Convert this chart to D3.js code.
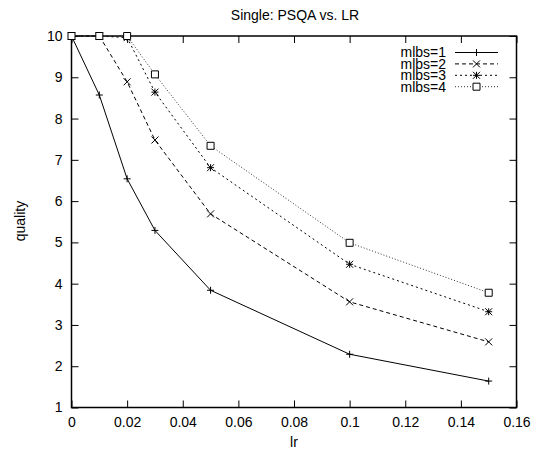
<!DOCTYPE html>
<html><head><meta charset="utf-8">
<script src="https://cdn.jsdelivr.net/npm/d3@7"></script>
<style>
body{margin:0;background:#fff;}
text{font-family:"Liberation Sans",Arial,Helvetica,sans-serif;fill:#000;}
</style></head>
<body>
<svg id="c" width="542" height="452"></svg>
<script>
const lr = [0, 0.01, 0.02, 0.03, 0.05, 0.1, 0.15];
const mlbs1 = [10, 8.57, 6.54, 5.29, 3.84, 2.29, 1.64];
const mlbs2 = [10, 10, 8.89, 7.48, 5.69, 3.56, 2.59];
const mlbs3 = [10, 10, 9.96, 8.64, 6.81, 4.47, 3.32];
const mlbs4 = [10, 10, 10, 9.07, 7.34, 4.99, 3.78];
const seriesNames = ["mlbs=1", "mlbs=2", "mlbs=3", "mlbs=4"];
const xTicks = [0, 0.02, 0.04, 0.06, 0.08, 0.1, 0.12, 0.14, 0.16];
const yTicks = [1, 2, 3, 4, 5, 6, 7, 8, 9, 10];

const series = [mlbs1, mlbs2, mlbs3, mlbs4];
const dashes = [null, "4,3", "2,3", "1,2"];
const markers = ["plus", "cross", "star", "box"];

const FS = 14;
const svg = d3.select("#c");
const L = 71.5, R = 516.5, T = 36, B = 407.5;
const x = d3.scaleLinear().domain([0, 0.16]).range([L, R]);
const y = d3.scaleLinear().domain([1, 10]).range([B, T]);

svg.append("text").attr("x", 295).attr("y", 20).attr("text-anchor", "middle")
  .attr("font-size", FS).text("Single: PSQA vs. LR");

const tl = 7;
const xa = svg.append("g").attr("transform", `translate(0,${B})`)
  .call(d3.axisBottom(x).tickValues(xTicks).tickSizeInner(-tl).tickSizeOuter(0).tickPadding(10)
    .tickFormat(d => d3.format("")(+d.toFixed(2))));
xa.select(".domain").remove();
xa.selectAll("text").attr("font-size", FS);
const xt = svg.append("g").attr("transform", `translate(0,${T})`)
  .call(d3.axisTop(x).tickValues(xTicks).tickSizeInner(-tl).tickSizeOuter(0).tickFormat(""));
xt.select(".domain").remove();
const ya = svg.append("g").attr("transform", `translate(${L},0)`)
  .call(d3.axisLeft(y).tickValues(yTicks).tickSizeInner(-tl).tickSizeOuter(0).tickPadding(9));
ya.select(".domain").remove();
ya.selectAll("text").attr("font-size", FS);
const yr = svg.append("g").attr("transform", `translate(${R},0)`)
  .call(d3.axisRight(y).tickValues(yTicks).tickSizeInner(-tl).tickSizeOuter(0).tickFormat(""));
yr.select(".domain").remove();
svg.selectAll(".tick line").attr("stroke", "#000").attr("stroke-width", 1);

svg.append("rect").attr("x", L).attr("y", T).attr("width", R - L).attr("height", B - T)
  .attr("fill", "none").attr("stroke", "#000").attr("stroke-width", 1.5);

svg.append("text").attr("x", 294).attr("y", 447).attr("text-anchor", "middle")
  .attr("font-size", FS).text("lr");
svg.append("text").attr("transform", "translate(25,221) rotate(-90)").attr("text-anchor", "middle")
  .attr("font-size", FS).text("quality");

function marker(g, type, cx, cy) {
  const s = 3.5;
  const p = d3.path();
  if (type === "plus" || type === "star") {
    p.moveTo(cx - s, cy); p.lineTo(cx + s, cy);
    p.moveTo(cx, cy - s); p.lineTo(cx, cy + s);
  }
  if (type === "cross" || type === "star") {
    p.moveTo(cx - s, cy - s); p.lineTo(cx + s, cy + s);
    p.moveTo(cx - s, cy + s); p.lineTo(cx + s, cy - s);
  }
  if (type === "box") {
    p.rect(cx - s, cy - s, 2 * s, 2 * s);
  }
  g.append("path").attr("d", p.toString()).attr("fill", type === "box" ? "#fff" : "none")
    .attr("stroke", "#000").attr("stroke-width", 1);
}

const line = d3.line().x((d, i) => x(lr[i])).y(d => y(d));
series.forEach((vals, si) => {
  const g = svg.append("g");
  g.append("path").datum(vals).attr("d", line).attr("fill", "none")
    .attr("stroke", si === 3 ? "#333" : "#000").attr("stroke-width", 1)
    .attr("stroke-dasharray", dashes[si]);
  vals.forEach((v, i) => marker(g, markers[si], x(lr[i]), y(v)));
});

const ly0 = 52.5, ldy = 11.4;
seriesNames.forEach((name, si) => {
  const yy = ly0 + si * ldy;
  svg.append("text").attr("x", 446).attr("y", yy).attr("dy", "0.35em").attr("text-anchor", "end")
    .attr("font-size", FS).text(name);
  const g = svg.append("g");
  g.append("line").attr("x1", 455).attr("x2", 498).attr("y1", yy).attr("y2", yy)
    .attr("stroke", si === 3 ? "#333" : "#000").attr("stroke-width", 1).attr("stroke-dasharray", dashes[si]);
  marker(g, markers[si], 476.5, yy);
});
</script>
</body></html>
